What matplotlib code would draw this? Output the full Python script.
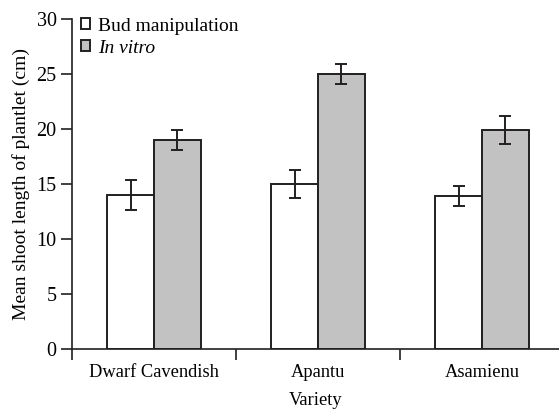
import matplotlib
matplotlib.use("Agg")
import matplotlib.pyplot as plt
import numpy as np

categories = ["Dwarf Cavendish", "Apantu", "Asamienu"]
bud = [14.0, 15.0, 13.9]
bud_err = [1.4, 1.25, 0.9]
vitro = [19.0, 25.0, 19.9]
vitro_err = [0.95, 0.9, 1.25]

plt.rcParams['font.family'] = ['Liberation Serif', 'DejaVu Serif']

fig = plt.figure(figsize=(5.59, 4.11), dpi=100)
ax = fig.add_axes([0.1288, 0.1509, 0.8712, 0.8029])

x = np.arange(len(categories))
w = 0.284
ax.bar(x - w/2, bud, w, color='white', edgecolor='#231f20', linewidth=1.4,
       yerr=bud_err, error_kw=dict(ecolor='#231f20', elinewidth=1.4, capsize=4, capthick=1.4),
       label='Bud manipulation', zorder=2)
ax.bar(x + w/2, vitro, w, color='#c2c2c2', edgecolor='#231f20', linewidth=1.4,
       yerr=vitro_err, error_kw=dict(ecolor='#231f20', elinewidth=1.4, capsize=4, capthick=1.4),
       label='In vitro', zorder=2)

ax.set_xlim(-0.5, 2.47)
ax.set_ylim(0, 30)
ax.set_yticks([0, 5, 10, 15, 20, 25, 30])
ax.set_xticks([-0.5, 0.5, 1.5])
ax.set_xticklabels([])
ax.set_xticks(x, minor=True)
ax.set_xticklabels(categories, minor=True, fontsize=13.3)
ax.tick_params(axis='x', which='minor', length=0, pad=11)
ax.tick_params(axis='x', which='major', length=8, width=1.2, direction='out', color='#231f20')
ax.tick_params(axis='y', length=8, width=1.2, direction='out', labelsize=14.5, color='#231f20', pad=3)

for s in ['top', 'right']:
    ax.spines[s].set_visible(False)
for s in ['left', 'bottom']:
    ax.spines[s].set_linewidth(1.2)
    ax.spines[s].set_color('#231f20')

ax.set_ylabel('Mean shoot length of plantlet (cm)', fontsize=14, labelpad=5)
ax.set_xlabel('Variety', fontsize=13.3, labelpad=8)

leg = ax.legend(loc='upper left', bbox_to_anchor=(-0.01, 1.045), frameon=False,
                prop=dict(family='Liberation Serif', size=14),
                handlelength=0.5, handleheight=0.5, handletextpad=0.4, labelspacing=0.25,
                borderaxespad=0.3)
for t in leg.get_texts():
    if t.get_text() == 'In vitro':
        t.set_style('italic')

fig.savefig('out.png', dpi=100)
